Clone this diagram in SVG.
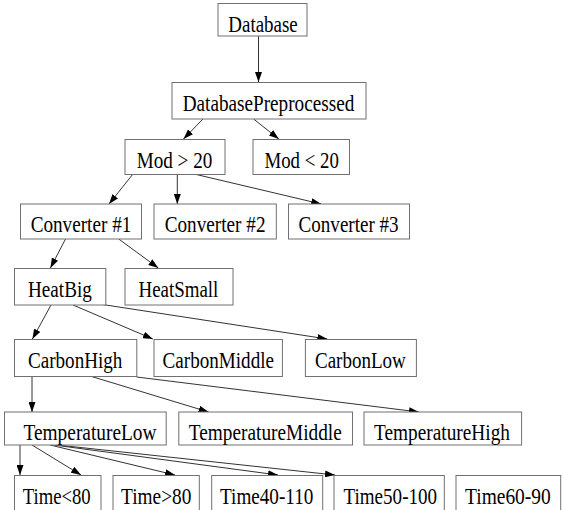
<svg xmlns="http://www.w3.org/2000/svg" width="562" height="510" viewBox="0 0 562 510">
<defs>
<marker id="ah" markerWidth="10" markerHeight="7" refX="10" refY="3.5" orient="auto" markerUnits="userSpaceOnUse">
<path d="M0,0 L10,3.5 L0,7 z" fill="#000"/>
</marker>
<style>
rect{fill:#fff;stroke:#707070;stroke-width:1}
text{font-family:"Liberation Serif","Times New Roman",serif;font-size:24px;fill:#000;text-anchor:middle}
.e line{stroke:#333;stroke-width:1;marker-end:url(#ah)}
</style>
</defs>
<rect x="0" y="0" width="562" height="510" style="fill:#fff;stroke:none"/>
<g class="e" id="edges">
<line x1="258.5" y1="36" x2="258.5" y2="82"/>
<line x1="203" y1="119" x2="183.5" y2="139"/>
<line x1="253.6" y1="119" x2="278.8" y2="139"/>
<line x1="133" y1="174" x2="109" y2="204"/>
<line x1="177.3" y1="174" x2="177.3" y2="204"/>
<line x1="194.2" y1="174" x2="321.2" y2="204"/>
<line x1="65.5" y1="239" x2="50.4" y2="268"/>
<line x1="118.7" y1="239" x2="158.3" y2="268"/>
<line x1="51" y1="305" x2="32.4" y2="339"/>
<line x1="73" y1="305" x2="152.9" y2="339"/>
<line x1="102.5" y1="304.5" x2="327.3" y2="339"/>
<line x1="32" y1="376" x2="32" y2="412"/>
<line x1="90" y1="376" x2="208.6" y2="412"/>
<line x1="136.7" y1="377" x2="419" y2="412"/>
<line x1="20" y1="445" x2="20" y2="475"/>
<line x1="32" y1="445" x2="81" y2="475"/>
<line x1="50" y1="445" x2="175" y2="475"/>
<line x1="54" y1="445" x2="278" y2="475"/>
<line x1="57.5" y1="445" x2="335" y2="475"/>
</g>
<g id="n-database"><rect x="218" y="3.5" width="89" height="32.5"/><text x="263" y="31.5" textLength="69.4" lengthAdjust="spacingAndGlyphs">Database</text></g>
<g id="n-dbpre"><rect x="172" y="82.5" width="194" height="36.5"/><text x="268.5" y="110.5" textLength="171.6" lengthAdjust="spacingAndGlyphs">DatabasePreprocessed</text></g>
<g id="n-modgt"><rect x="125" y="139.5" width="100" height="35"/><text x="174.5" y="167.5" textLength="75.5" lengthAdjust="spacingAndGlyphs">Mod &gt; 20</text></g>
<g id="n-modlt"><rect x="253" y="139.5" width="96.5" height="35"/><text x="301.6" y="167.5" textLength="74.4" lengthAdjust="spacingAndGlyphs">Mod &lt; 20</text></g>
<g id="n-conv1"><rect x="20.5" y="204" width="121" height="35"/><text x="81" y="232" textLength="100.7" lengthAdjust="spacingAndGlyphs">Converter #1</text></g>
<g id="n-conv2"><rect x="154" y="204" width="122.3" height="35"/><text x="215.1" y="232" textLength="100.8" lengthAdjust="spacingAndGlyphs">Converter #2</text></g>
<g id="n-conv3"><rect x="288.5" y="204" width="121" height="35"/><text x="348.6" y="232" textLength="100" lengthAdjust="spacingAndGlyphs">Converter #3</text></g>
<g id="n-heatbig"><rect x="14.5" y="268.5" width="91.3" height="36.5"/><text x="59.9" y="296.5" textLength="63.7" lengthAdjust="spacingAndGlyphs">HeatBig</text></g>
<g id="n-heatsmall"><rect x="125" y="268.5" width="108" height="36.5"/><text x="178.4" y="296.5" textLength="79.8" lengthAdjust="spacingAndGlyphs">HeatSmall</text></g>
<g id="n-carbonhigh"><rect x="14.5" y="339.5" width="122.3" height="37"/><text x="75.2" y="367.5" textLength="94.3" lengthAdjust="spacingAndGlyphs">CarbonHigh</text></g>
<g id="n-carbonmiddle"><rect x="154" y="339.5" width="128.4" height="37"/><text x="218.3" y="367.5" textLength="111.4" lengthAdjust="spacingAndGlyphs">CarbonMiddle</text></g>
<g id="n-carbonlow"><rect x="305.4" y="339.5" width="111" height="37"/><text x="360.4" y="367.5" textLength="90.8" lengthAdjust="spacingAndGlyphs">CarbonLow</text></g>
<g id="n-templow"><rect x="4.5" y="412" width="161.7" height="33"/><text x="90" y="440" textLength="133" lengthAdjust="spacingAndGlyphs">TemperatureLow</text></g>
<g id="n-tempmiddle"><rect x="178.8" y="412" width="173.7" height="33"/><text x="265.3" y="440" textLength="152.9" lengthAdjust="spacingAndGlyphs">TemperatureMiddle</text></g>
<g id="n-temphigh"><rect x="364" y="412" width="157.6" height="33"/><text x="442" y="440" textLength="136" lengthAdjust="spacingAndGlyphs">TemperatureHigh</text></g>
<g id="n-tlt80"><rect x="14.5" y="475.5" width="86.5" height="40"/><text x="56.7" y="503.5" textLength="68" lengthAdjust="spacingAndGlyphs">Time&lt;80</text></g>
<g id="n-tgt80"><rect x="113" y="475.5" width="86.3" height="40"/><text x="156.2" y="503.5" textLength="70.3" lengthAdjust="spacingAndGlyphs">Time&gt;80</text></g>
<g id="n-t40"><rect x="211.7" y="475.5" width="111" height="40"/><text x="266.7" y="503.5" textLength="93.3" lengthAdjust="spacingAndGlyphs">Time40-110</text></g>
<g id="n-t50"><rect x="334" y="475.5" width="110.3" height="40"/><text x="390.3" y="503.5" textLength="93.5" lengthAdjust="spacingAndGlyphs">Time50-100</text></g>
<g id="n-t60"><rect x="456" y="475.5" width="104.7" height="40"/><text x="507.9" y="503.5" textLength="85.7" lengthAdjust="spacingAndGlyphs">Time60-90</text></g>
</svg>
